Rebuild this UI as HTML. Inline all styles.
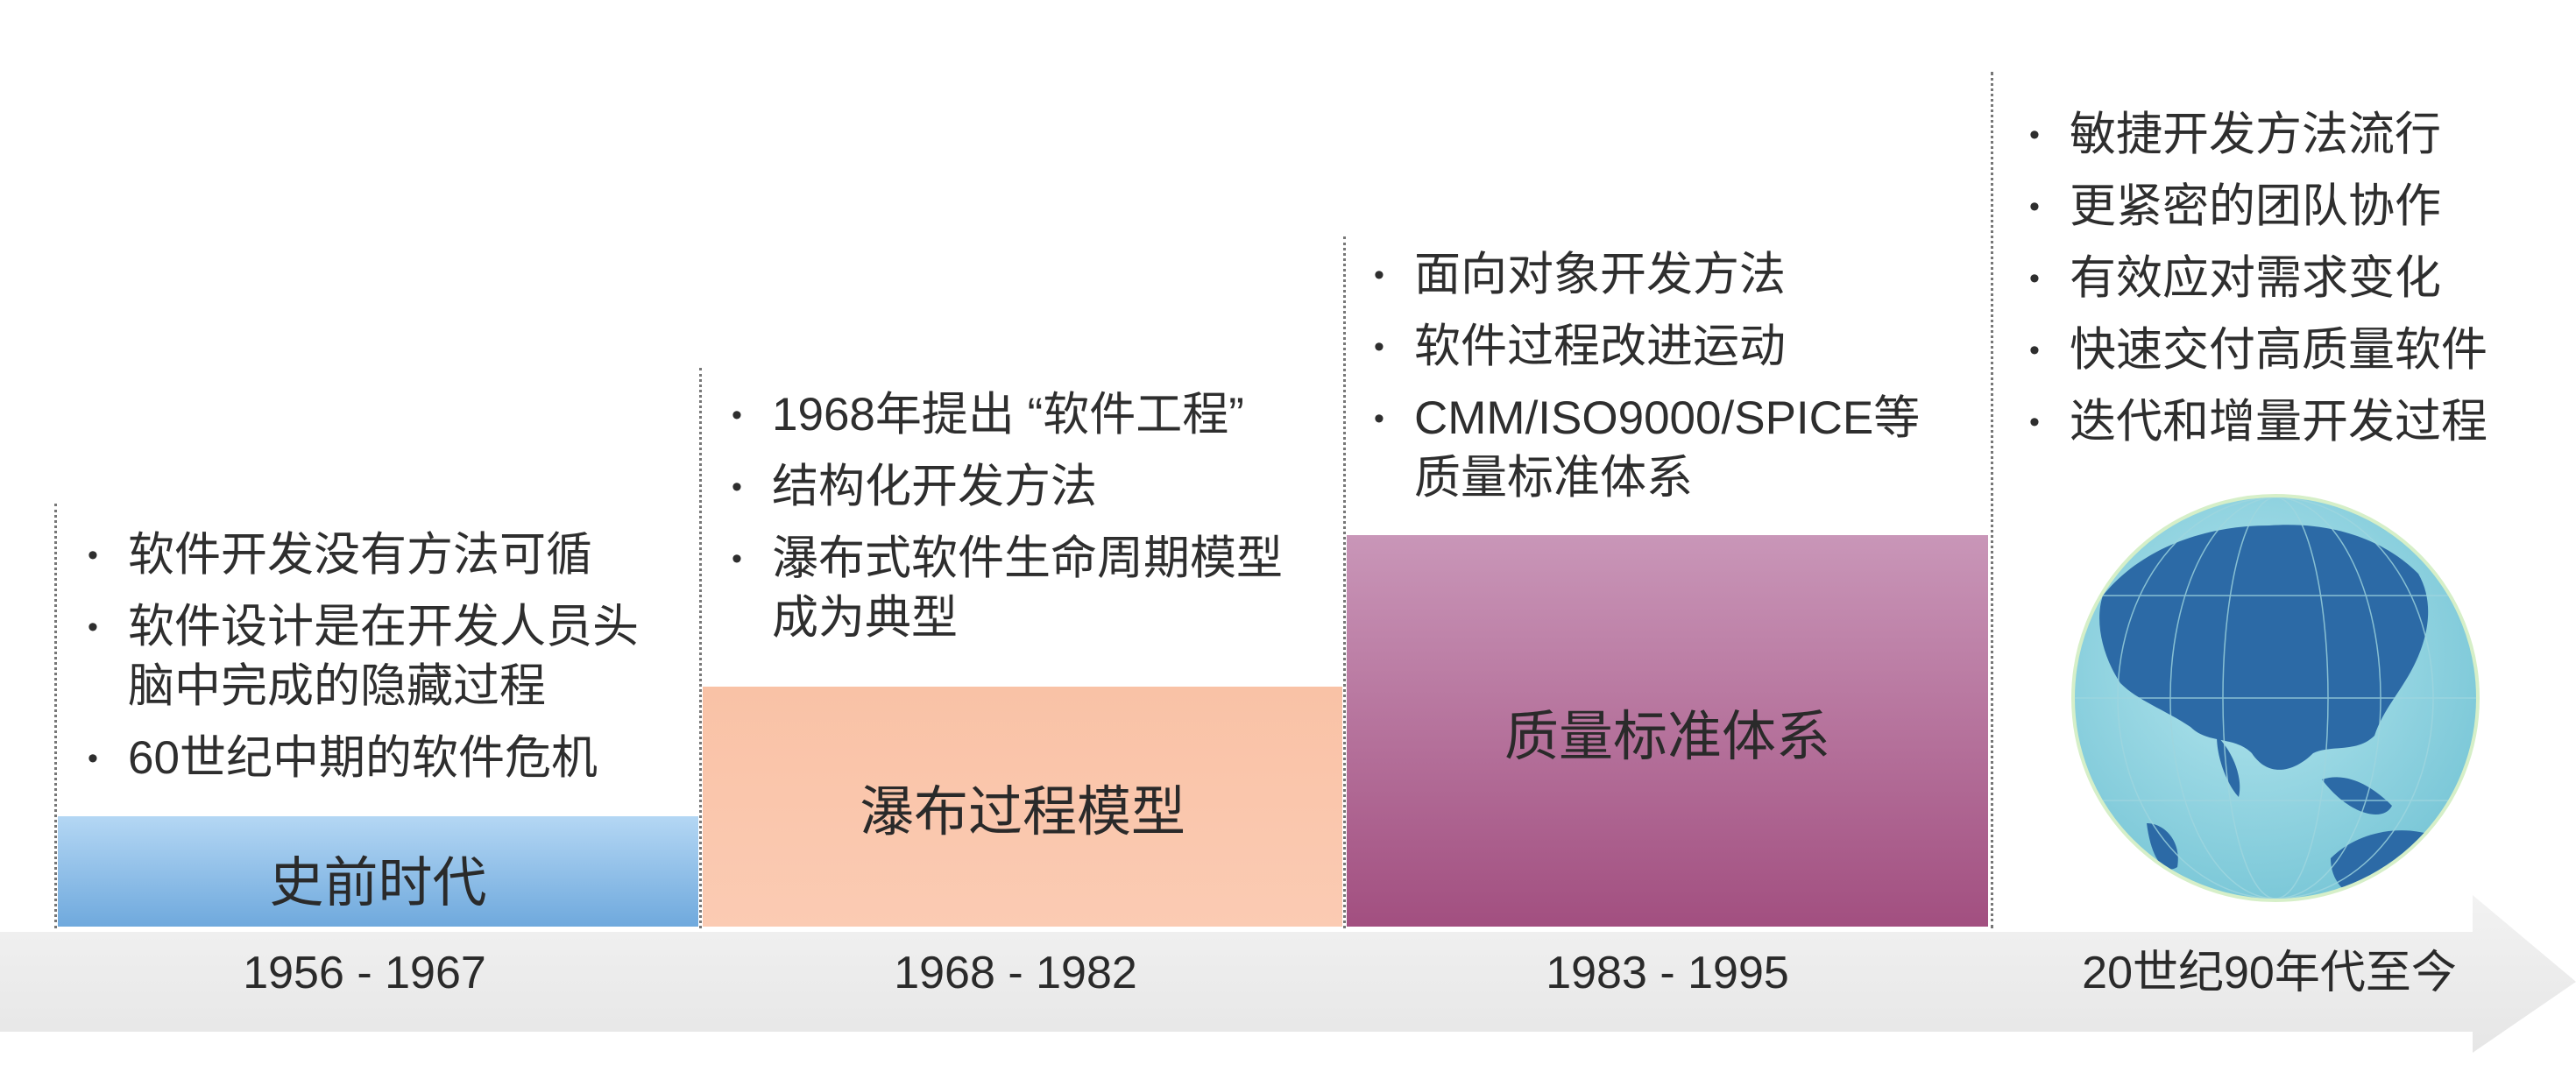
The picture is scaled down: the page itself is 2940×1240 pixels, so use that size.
<!DOCTYPE html>
<html><head><meta charset="utf-8"><style>
body{margin:0;width:2940px;height:1240px;background:#fff;position:relative;overflow:hidden;font-family:"Liberation Sans","Noto Sans CJK SC",sans-serif;color:#2e2e2e}
.abs{position:absolute}
.vl{position:absolute;width:0;border-left:3px dotted #777}
.blk{position:absolute;display:flex;align-items:center;justify-content:center;font-size:62px;color:#2a2a2a}
.list{position:absolute;font-size:53px;line-height:82px;margin:0;padding:0;list-style:none}
.list li{position:relative;padding-left:46px;white-space:nowrap;height:82px}
.list li:before{content:"•";position:absolute;left:0;font-size:34px}
.list li.c{margin-top:-14px}
.list li.c:before{content:""}
.yr{position:absolute;top:1078px;height:66px;line-height:66px;font-size:52px;transform:translateX(-50%);white-space:nowrap;color:#2a2a2a}
</style></head><body>
<svg class="abs" style="left:0;top:0" width="2940" height="1240">
<defs><linearGradient id="ag" x1="0" y1="0" x2="0" y2="1"><stop offset="0" stop-color="#f2f2f2"/><stop offset="1" stop-color="#e6e6e6"/></linearGradient></defs>
<polygon points="0,1064 2822,1064 2822,1022 2940,1121 2822,1202 2822,1178 0,1178" fill="url(#ag)"/>
</svg>
<div class="vl" style="left:62px;top:575px;height:485px"></div>
<div class="vl" style="left:798px;top:420px;height:640px"></div>
<div class="vl" style="left:1533px;top:270px;height:790px"></div>
<div class="vl" style="left:2272px;top:82px;height:978px"></div>

<div class="blk" style="left:66px;top:932px;width:731px;height:126px;padding-top:14px;box-sizing:border-box;background:linear-gradient(#b4d7f4,#6fa9dd)">史前时代</div>
<div class="blk" style="left:802px;top:784px;width:730px;height:274px;background:linear-gradient(#f9c2a6,#fbcbb3)">瀑布过程模型</div>
<div class="blk" style="left:1537px;top:611px;width:732px;height:447px;background:linear-gradient(#c996b8,#a24f80)">质量标准体系</div>

<ul class="list" style="left:100px;top:593px">
<li>软件开发没有方法可循</li><li>软件设计是在开发人员头</li><li class="c">脑中完成的隐藏过程</li><li>60世纪中期的软件危机</li></ul>
<ul class="list" style="left:835px;top:433px">
<li>1968年提出 “软件工程”</li><li>结构化开发方法</li><li>瀑布式软件生命周期模型</li><li class="c">成为典型</li></ul>
<ul class="list" style="left:1568px;top:273px">
<li>面向对象开发方法</li><li>软件过程改进运动</li><li>CMM/ISO9000/SPICE等</li><li class="c">质量标准体系</li></ul>
<ul class="list" style="left:2316px;top:113px">
<li>敏捷开发方法流行</li><li>更紧密的团队协作</li><li>有效应对需求变化</li><li>快速交付高质量软件</li><li>迭代和增量开发过程</li></ul>

<div class="yr" style="left:416px">1956 - 1967</div>
<div class="yr" style="left:1159px">1968 - 1982</div>
<div class="yr" style="left:1903px">1983 - 1995</div>
<div class="yr" style="left:2590px">20世纪90年代至今</div>

<svg class="abs" style="left:2360px;top:560px" width="480" height="480">
<defs><radialGradient id="og" cx="0.45" cy="0.4" r="0.6"><stop offset="0" stop-color="#b5e6ee"/><stop offset="1" stop-color="#7cc8d8"/></radialGradient>
<clipPath id="gc"><circle cx="237" cy="237" r="229"/></clipPath></defs>
<circle cx="237" cy="237" r="231" fill="url(#og)" stroke="#d6efc8" stroke-width="4"/>
<g clip-path="url(#gc)" fill="#2c6aa6">
<path d="M40,120 C80,70 150,40 230,40 C300,35 360,55 400,95 C420,130 410,170 395,200 C380,230 360,250 350,280 C330,300 300,290 280,300 C260,320 230,330 210,300 C190,280 160,290 140,270 C110,250 80,240 60,220 C40,190 30,150 40,120Z"/>
<path d="M170,280 C190,300 200,330 195,350 C185,340 170,310 170,280Z"/>
<path d="M290,330 C320,320 350,340 370,360 C360,380 320,370 290,330Z"/>
<path d="M300,420 C330,390 380,380 420,395 C430,430 400,470 340,470 C310,460 300,440 300,420Z"/>
<path d="M90,380 C110,380 130,400 125,430 C110,440 95,420 90,380Z"/>
</g>
<g clip-path="url(#gc)" stroke="#9fd6df" stroke-width="1.5" fill="none" opacity="0.8">
<ellipse cx="237" cy="237" rx="60" ry="229"/><ellipse cx="237" cy="237" rx="120" ry="229"/><ellipse cx="237" cy="237" rx="180" ry="229"/>
<line x1="0" y1="120" x2="480" y2="120"/><line x1="0" y1="237" x2="480" y2="237"/><line x1="0" y1="354" x2="480" y2="354"/>
</g>
</svg>
</body></html>
